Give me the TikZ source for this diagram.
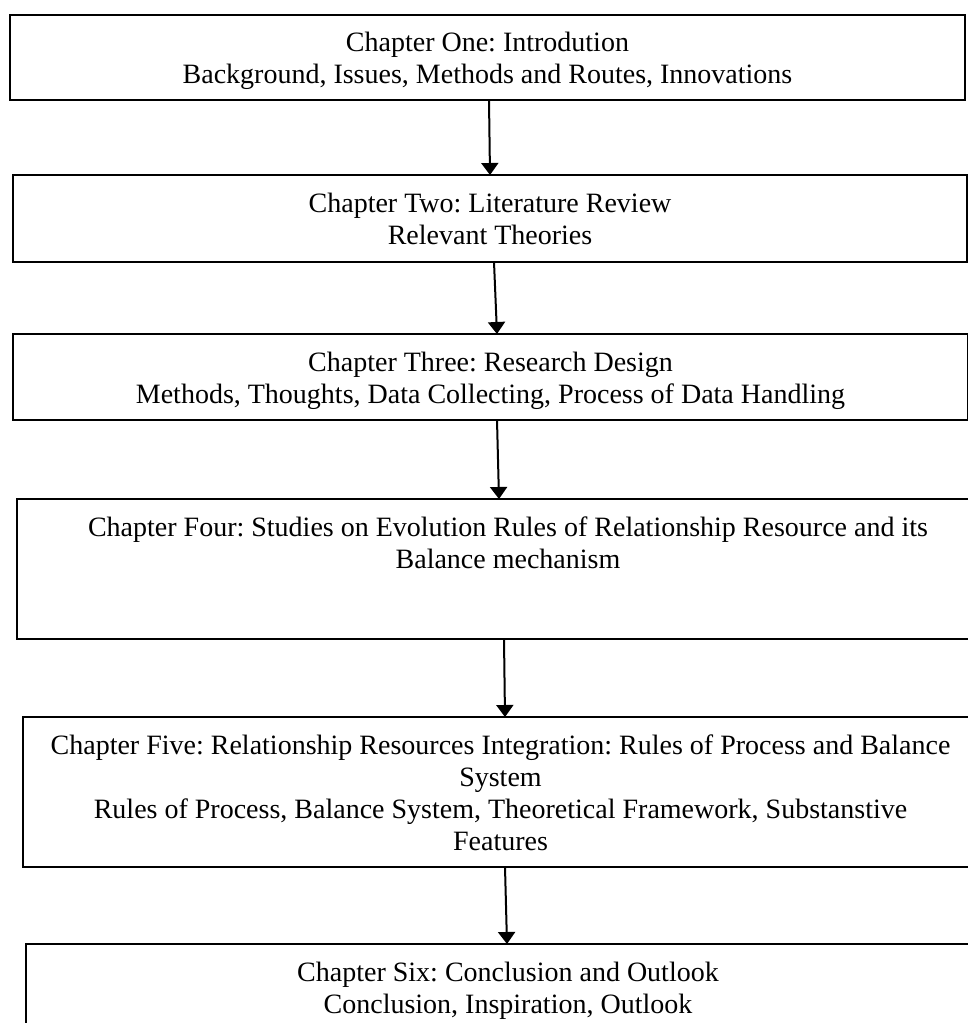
\documentclass[tikz,border=0pt]{standalone}
\usepackage{fontspec}
\setmainfont{Liberation Serif}
\usetikzlibrary{arrows.meta}

\tikzset{
  chapbox/.style={draw=black, line width=1.8pt, rectangle, inner sep=0pt, outer sep=0pt},
  chaptext/.style={anchor=north, inner sep=0pt, align=center,
    font=\fontsize{28}{32}\selectfont\frenchspacing},
  flow/.style={draw=black, line width=2pt,
    -{Triangle[width=17pt, length=12pt]}}
}

\begin{document}
\begin{tikzpicture}[x=1pt, y=-1pt]
  \useasboundingbox (0,0) rectangle (968,1023);
  \fill[white] (0,0) rectangle (968,1023);
  \clip (0,0) rectangle (968,1023);

  % chapter frames
  \node[chapbox, minimum width=955pt, minimum height=85pt]  (c1) at (487.5, 57.5) {};
  \node[chapbox, minimum width=954pt, minimum height=87pt]  (c2) at (490, 218.5) {};
  \node[chapbox, minimum width=955pt, minimum height=86pt]  (c3) at (490.5, 377) {};
  \node[chapbox, minimum width=982pt, minimum height=140pt] (c4) at (508, 569) {};
  \node[chapbox, minimum width=955pt, minimum height=150pt] (c5) at (500.5, 792) {};
  \node[chapbox, minimum width=964pt, minimum height=120pt] (c6) at (508, 1004) {};

  % chapter contents
  \node[chaptext] (t1) at ([yshift=-17.3pt]c1.north)
    {Chapter One: Introdution\\Background, Issues, Methods and Routes, Innovations};
  \node[chaptext] (t2) at ([yshift=-17.9pt]c2.north)
    {Chapter Two: Literature Review\\Relevant Theories};
  \node[chaptext] (t3) at ([yshift=-17.9pt]c3.north)
    {Chapter Three: Research Design\\Methods, Thoughts, Data Collecting, Process of Data Handling};
  \node[chaptext] (t4) at ([yshift=-17.9pt]c4.north)
    {Chapter Four: Studies on Evolution Rules of Relationship Resource and its\\Balance mechanism};
  \node[chaptext] (t5) at ([yshift=-17.3pt]c5.north)
    {Chapter Five: Relationship Resources Integration: Rules of Process and Balance\\System\\Rules of Process, Balance System, Theoretical Framework, Substanstive\\Features};
  \node[chaptext] (t6) at ([yshift=-17.9pt]c6.north)
    {Chapter Six: Conclusion and Outlook\\Conclusion, Inspiration, Outlook};

  % flow between chapters
  \draw[flow] ([xshift=1.5pt]c1.south) -- ([xshift=0pt]c2.north);
  \draw[flow] ([xshift=4pt]c2.south)   -- ([xshift=6.5pt]c3.north);
  \draw[flow] ([xshift=6.5pt]c3.south) -- ([xshift=-9pt]c4.north);
  \draw[flow] ([xshift=-4pt]c4.south)  -- ([xshift=4.5pt]c5.north);
  \draw[flow] ([xshift=4.5pt]c5.south) -- ([xshift=-1pt]c6.north);
\end{tikzpicture}
\end{document}
